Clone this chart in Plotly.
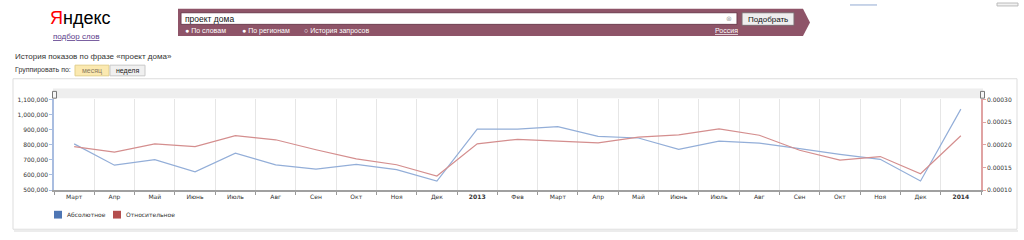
import plotly.graph_objects as go

# ---------------- data ----------------
months = ["Март", "Апр", "Май", "Июнь", "Июль", "Авг", "Сен", "Окт", "Ноя", "Дек",
          "<b>2013</b>", "Фев", "Март", "Апр", "Май", "Июнь", "Июль", "Авг", "Сен",
          "Окт", "Ноя", "Дек", "<b>2014</b>"]
absolute = [806000, 665000, 702000, 621000, 744000, 667000, 639000, 670000, 635000, 560000,
            903000, 903000, 920000, 856000, 845000, 770000, 824000, 811000, 774000,
            736000, 704000, 560000, 1036000]
relative = [0.000196, 0.000184, 0.000202, 0.000196, 0.000220, 0.000211, 0.000189, 0.000169,
            0.000156, 0.000131, 0.000202, 0.000212, 0.000208, 0.000204, 0.000217, 0.000222,
            0.000235, 0.000221, 0.000188, 0.000166, 0.000174, 0.000136, 0.000220]
left_ticks = [500000, 600000, 700000, 800000, 900000, 1000000, 1100000]
right_ticks = [0.00010, 0.00015, 0.00020, 0.00025, 0.00030]

W, H = 1024, 240
def X(p): return p / W
def Y(p): return 1 - p / H

FONT = "DejaVu Sans, Verdana, sans-serif"
UI = "Liberation Sans, Arial, sans-serif"
idx = list(range(len(months)))

fig = go.Figure()
fig.add_trace(go.Scatter(x=idx, y=absolute, mode="lines", name="Абсолютное",
                         line=dict(color="#93aed8", width=1.2), yaxis="y"))
fig.add_trace(go.Scatter(x=idx, y=relative, mode="lines", name="Относительное",
                         line=dict(color="#d48e8e", width=1.2), yaxis="y2"))

shapes = []
ann = []

def rect(x0, y0, x1, y1, fill=None, line=None, lw=1, layer="below"):
    shapes.append(dict(type="rect", xref="paper", yref="paper",
                       x0=X(x0), x1=X(x1), y0=Y(y1), y1=Y(y0),
                       fillcolor=fill or "rgba(0,0,0,0)",
                       line=dict(color=line or "rgba(0,0,0,0)", width=lw if line else 0),
                       layer=layer))

def text(x, y, t, size=8, color="#333", xanchor="left", family=UI):
    ann.append(dict(xref="paper", yref="paper", x=X(x), y=Y(y), text=t, showarrow=False,
                    xanchor=xanchor, yanchor="middle",
                    font=dict(size=size, color=color, family=family)))

# ---- header ----
text(48, 14, "<span style='color:#ff0000'>Я</span>ндекс", size=18, color="#000",
     family="Liberation Sans Narrow, Liberation Sans, Arial, sans-serif")
text(51, 33, "<u>подбор слов</u>", size=8, color="#5b3a8a")

# search panel with arrow
pts = [(178, 5), (803, 5), (810, 19), (803, 33), (178, 33)]
path = "M " + " L ".join(f"{X(a):.5f},{Y(b):.5f}" for a, b in pts) + " Z"
shapes.append(dict(type="path", xref="paper", yref="paper", path=path,
                   fillcolor="#8e5468", line=dict(width=0), layer="below"))
rect(181, 9, 737, 21, fill="#ffffff", line="#6d3c4f")
text(183, 15, "проект дома", size=8.5, color="#111")
text(729, 15, "⊗", size=7, color="#aaa", xanchor="center", family=FONT)
rect(742, 9, 794, 22, fill="#eeeeee", line="#7a6a70")
text(768, 15.5, "Подобрать", size=8, color="#111", xanchor="center")
text(183, 27.5, "● По словам", size=7, color="#ffffff")
text(240, 27.5, "● По регионам", size=7, color="#ffffff")
text(302, 27.5, "○ История запросов", size=7, color="#ffffff")
text(713, 27, "<u>Россия</u>", size=7, color="#ffffff")

# top-right bits
rect(850, 0.5, 877, 1.5, fill="#8fa8d0")
rect(997, -1, 1018, 2, fill="#f2f2f2", line="#bbb")

# ---- titles ----
text(13, 54, "История показов по фразе «проект дома»", size=8, color="#333")
text(13, 68, "Группировать по:", size=7, color="#333")
rect(75, 63, 109, 74, fill="#fbe9b0", line="#e2cf8a")
text(92, 68.5, "месяц", size=7, color="#8a7a60", xanchor="center")
rect(110, 63, 145, 74, fill="#f0f0f0", line="#c8c8c8")
text(127.5, 68.5, "неделя", size=7, color="#222", xanchor="center")

# ---- chart panel ----
rect(14, 233, 1018, 234.5, fill="#e6e6e6")
rect(13, 77, 1017, 232, fill="#ffffff", line="#dddddd")
rect(53, 87, 983, 97, fill="#eeeeee")
rect(52.5, 90, 56.5, 97, fill="#f6f6f6", line="#777", layer="above")
rect(980.5, 90, 984.5, 97, fill="#f6f6f6", line="#777", layer="above")

# ---- legend ----
rect(54, 213, 62, 221, fill="#4e76b4")
text(65, 217, "Абсолютное", size=6, color="#333", family=FONT)
rect(113, 213, 121, 221, fill="#b44e4e")
text(124, 217, "Относительное", size=6, color="#333", family=FONT)

tickfont = dict(size=6, color="#333", family=FONT)
fig.update_layout(
    width=W, height=H, autosize=False,
    margin=dict(l=0, r=0, t=0, b=0, pad=0),
    paper_bgcolor="#ffffff", plot_bgcolor="#ffffff",
    showlegend=False, hovermode="x",
    shapes=shapes, annotations=ann,
    xaxis=dict(domain=[X(54), X(981)], range=[-0.5, len(months) - 0.5],
               tickmode="array", tickvals=idx, ticktext=months,
               ticks="", showgrid=False, zeroline=False,
               showline=True, linecolor="#a0a0a0", linewidth=2,
               tickfont=tickfont,
               minor=dict(tick0=0.5, dtick=1, showgrid=True, gridcolor="#e6e6e6",
                          gridwidth=1, ticks="outside", ticklen=3, tickcolor="#999")),
    yaxis=dict(domain=[Y(191.7), Y(98.3)], range=[500000, 1100000],
               tickmode="array", tickvals=left_ticks, tickformat=",d",
               showgrid=False, zeroline=False,
               showline=True, linecolor="#a9bde0", linewidth=1.5,
               ticks="outside", ticklen=3, tickcolor="#a9bde0",
               tickfont=tickfont),
    yaxis2=dict(domain=[Y(191.7), Y(98.3)], range=[0.0001, 0.0003], overlaying="y",
                side="right", anchor="x",
                tickmode="array", tickvals=right_ticks, tickformat=".5f",
                showgrid=False, zeroline=False,
                showline=True, linecolor="#e0a3a3", linewidth=1.5,
                ticks="outside", ticklen=3, tickcolor="#e0a3a3",
                tickfont=tickfont),
)

fig.write_html("out.html")
